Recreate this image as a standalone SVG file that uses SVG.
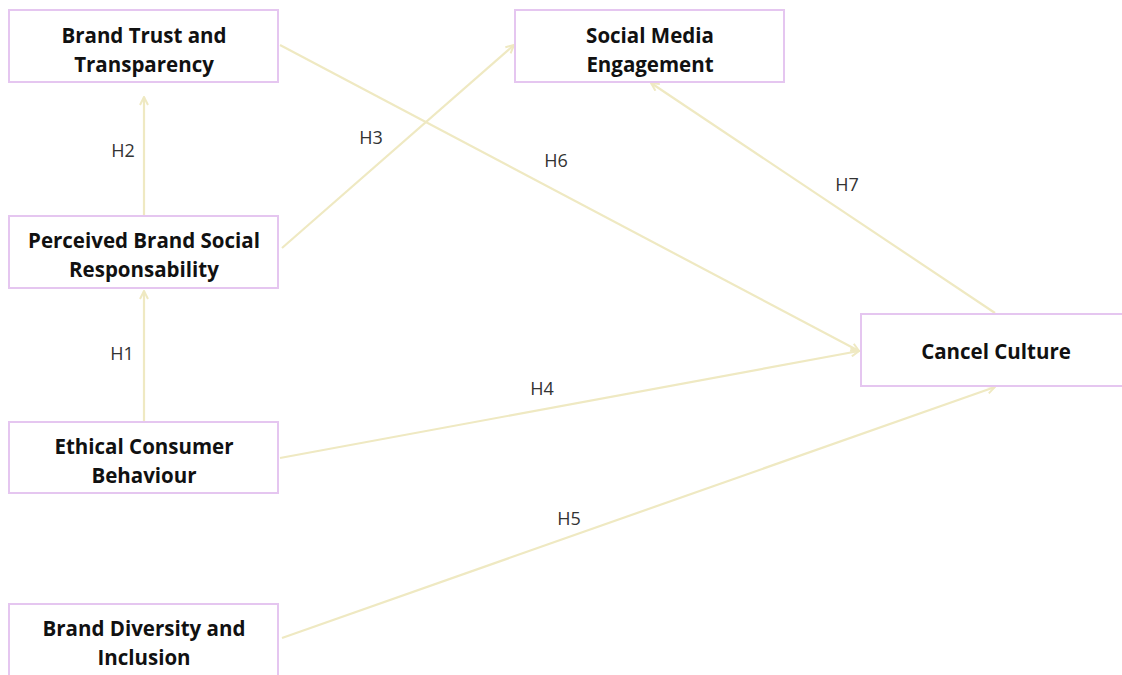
<svg xmlns="http://www.w3.org/2000/svg" width="1122" height="675" viewBox="0 0 1122 675">
<defs>
<style>
.box{fill:#fff;stroke:#e5c6f0;stroke-width:2}
.t{font-family:"Open Sans","Noto Sans",sans-serif;font-weight:bold;font-size:20.5px;fill:#111;text-anchor:middle}
.l{font-family:"Open Sans","Noto Sans",sans-serif;font-size:18px;fill:#333;text-anchor:middle}
.c{stroke:#efe9c2;stroke-width:2.2;fill:none;marker-end:url(#ah)}
</style>
<marker id="ah" viewBox="0 0 10 10" refX="9" refY="5" markerWidth="10" markerHeight="10" markerUnits="userSpaceOnUse" orient="auto">
<path d="M1,1 L9,5 L1,9" fill="none" stroke="#efe9c2" stroke-width="2"/>
</marker>
</defs>
<rect width="1122" height="675" fill="#fff"/>
<g id="connectors">
<line class="c" x1="144" y1="215" x2="144" y2="97"/>
<line class="c" x1="144" y1="421" x2="144" y2="291"/>
<line class="c" x1="282" y1="248" x2="514" y2="45"/>
<line class="c" x1="280" y1="45" x2="859" y2="351"/>
<line class="c" x1="280" y1="458" x2="859" y2="351"/>
<line class="c" x1="282" y1="638" x2="995" y2="387"/>
<line class="c" x1="995" y1="313" x2="651" y2="83"/>
<text class="l" x="123" y="157">H2</text>
<text class="l" x="122" y="360">H1</text>
<text class="l" x="371" y="144">H3</text>
<text class="l" x="556" y="167">H6</text>
<text class="l" x="847" y="191">H7</text>
<text class="l" x="542" y="395">H4</text>
<text class="l" x="569" y="525">H5</text>
</g>
<g id="brand-trust">
<rect class="box" x="9" y="10" width="269" height="72"/>
<text class="t" x="144" y="43">Brand Trust and</text>
<text class="t" x="144" y="72">Transparency</text>
</g>
<g id="social-media">
<rect class="box" x="515" y="10" width="269" height="72"/>
<text class="t" x="650" y="43">Social Media</text>
<text class="t" x="650" y="72">Engagement</text>
</g>
<g id="perceived">
<rect class="box" x="9" y="216" width="269" height="72"/>
<text class="t" x="144" y="248">Perceived Brand Social</text>
<text class="t" x="144" y="277">Responsability</text>
</g>
<g id="cancel-culture">
<rect class="box" x="861" y="314" width="269" height="72"/>
<text class="t" x="996" y="359">Cancel Culture</text>
</g>
<g id="ethical">
<rect class="box" x="9" y="422" width="269" height="71"/>
<text class="t" x="144" y="454">Ethical Consumer</text>
<text class="t" x="144" y="483">Behaviour</text>
</g>
<g id="diversity">
<rect class="box" x="9" y="604" width="269" height="80"/>
<text class="t" x="144" y="636">Brand Diversity and</text>
<text class="t" x="144" y="665">Inclusion</text>
</g>
</svg>
